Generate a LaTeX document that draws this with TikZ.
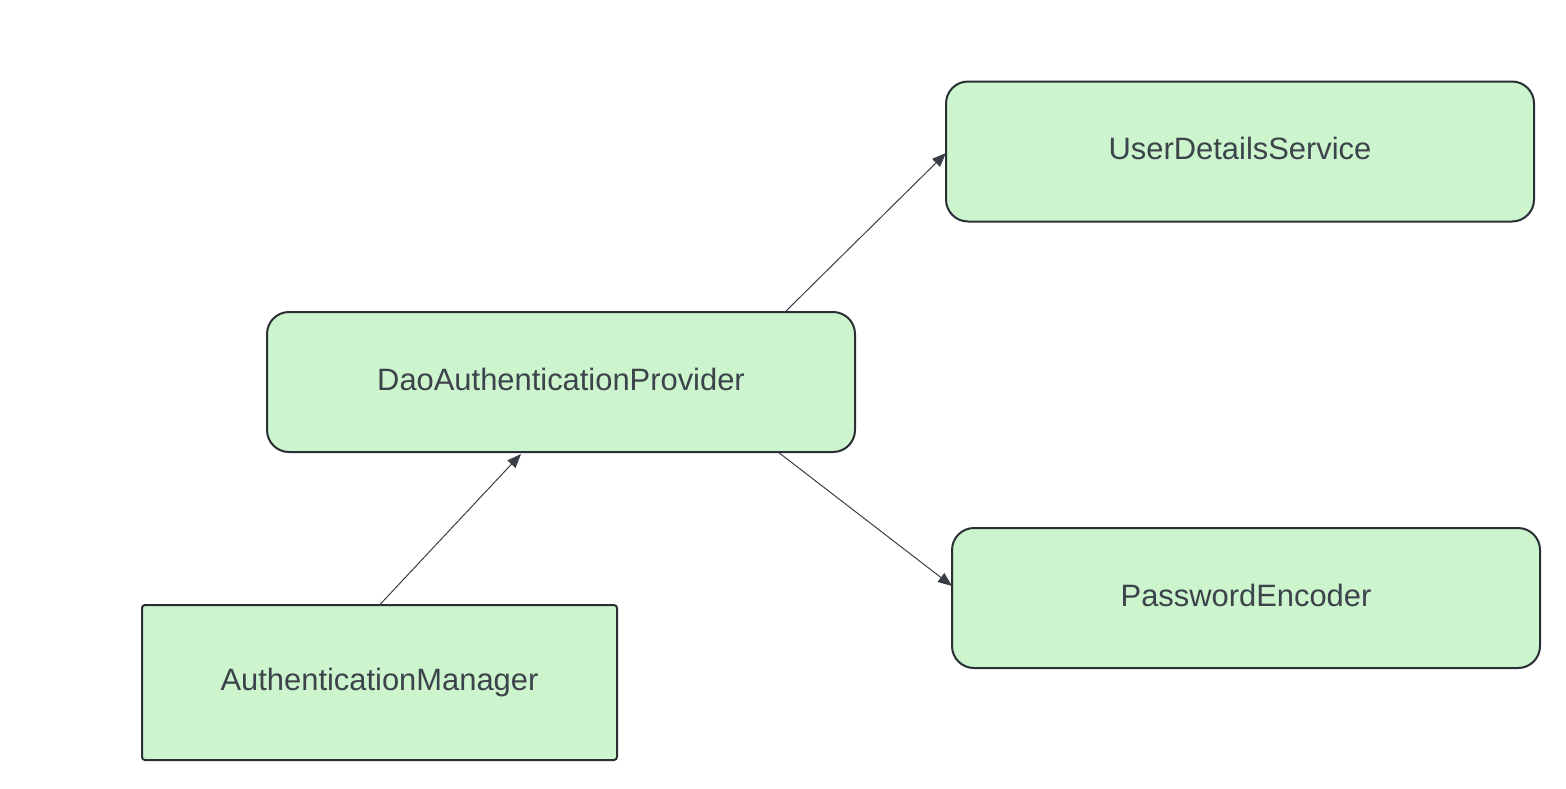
\documentclass[tikz,border=0pt]{standalone}
\usepackage{fontspec}
\setmainfont{Liberation Sans}
\usetikzlibrary{arrows.meta,calc}
\definecolor{boxfill}{HTML}{CDF5CD}
\definecolor{boxline}{HTML}{2A2E35}
\definecolor{txt}{HTML}{3C434B}
\definecolor{arr}{HTML}{3A3F47}
\tikzset{
  box/.style={draw=boxline, line width=1pt, fill=boxfill, text=txt,
    rounded corners=11pt, inner sep=0pt, outer sep=0pt,
    minimum width=294pt, minimum height=70pt,
    text height=11.1pt, text depth=3pt,
    font=\fontsize{15.45pt}{18pt}\selectfont},
  sharpbox/.style={box, rounded corners=1.5pt, minimum width=237.5pt, minimum height=77.5pt},
  conn/.style={draw=arr, line width=0.5pt, -{Triangle[length=7pt,width=5.5pt]}}
}
\begin{document}
\begin{tikzpicture}[x=0.5pt,y=-0.5pt]
\useasboundingbox (0,0) rectangle (1566,788);
\node[box] (uds) at (1240,151.5) {UserDetailsService};
\node[box] (dao) at (561,382) {DaoAuthenticationProvider};
\node[box] (pe) at (1246,598) {PasswordEncoder};
\node[sharpbox] (am) at (379.5,682.5) {AuthenticationManager};
\draw[conn] ($(dao.north)+(224,0)$) -- ($(uds.west)+(0,1.5)$);
\draw[conn] (am.north) -- ($(dao.south)+(-40,2)$);
\draw[conn] ($(dao.south)+(217,0)$) -- ($(pe.west)+(0,-12)$);
\end{tikzpicture}
\end{document}
